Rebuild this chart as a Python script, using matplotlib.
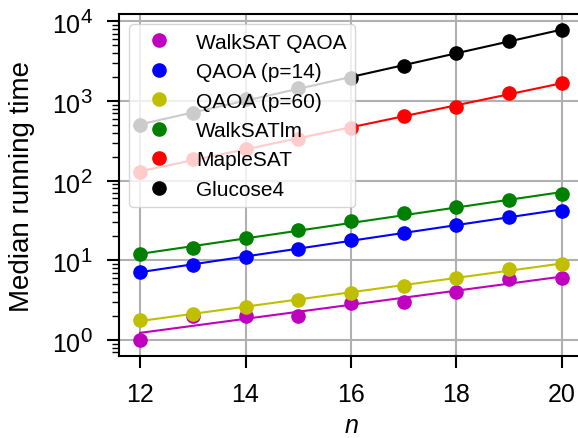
import numpy as np
import matplotlib
matplotlib.use('Agg')
import matplotlib.pyplot as plt
import matplotlib._mathtext as mt

plt.rcParams['font.family'] = ['Liberation Sans', 'DejaVu Sans']
plt.rcParams['mathtext.fontset'] = 'custom'
plt.rcParams['mathtext.rm'] = 'Liberation Sans'
plt.rcParams['mathtext.it'] = 'Liberation Sans:italic'
# exponents on the y ticks are a bit larger than the default mathtext ones
mt.SHRINK_FACTOR = 0.82

# problem sizes
n = [12, 13, 14, 15, 16, 17, 18, 19, 20]

# median running times
walksat_qaoa = [1.0, 2.0, 2.0, 2.0, 2.9, 3.0, 4.0, 5.9, 6.0]
qaoa_p14 = [7.1, 8.8, 11.2, 14.1, 17.8, 22.4, 28.2, 35.6, 42.0]
qaoa_p60 = [1.8, 2.1, 2.6, 3.2, 3.9, 4.8, 6.1, 7.9, 8.9]
walksatlm = [12.0, 14.3, 18.9, 24.0, 31.0, 38.9, 46.7, 57.6, 68.0]
maplesat = [130, 187, 250, 333, 465, 650, 853, 1280, 1670]
glucose4 = [500, 707, 1060, 1480, 1940, 2800, 3990, 5760, 7770]

series = [
    ('WalkSAT QAOA', walksat_qaoa, 'm'),
    ('QAOA (p=14)', qaoa_p14, 'b'),
    ('QAOA (p=60)', qaoa_p60, 'y'),
    ('WalkSATlm', walksatlm, 'g'),
    ('MapleSAT', maplesat, 'r'),
    ('Glucose4', glucose4, 'k'),
]

fig = plt.figure(figsize=(5.78, 4.39), dpi=100)
ax = fig.add_axes([119 / 578, 82 / 439, 464 / 578, 342 / 439])

x = np.array(n)
for label, vals, c in series:
    # exponential fit (straight line on log axis)
    k, b = np.polyfit(x, np.log10(vals), 1)
    ax.plot(x, 10 ** (k * x + b), '-', color=c, lw=1.5, zorder=2)
    ax.plot(x, vals, 'o', color=c, ms=9.5, label=label, zorder=3)

ax.set_yscale('log')
ax.set_xlim(11.6, 20.4)
ax.set_ylim(10 ** -0.2, 10 ** 4.094)
ax.set_xticks([12, 14, 16, 18, 20])
ax.grid(True, which='major', color='#b0b0b0', lw=1.5)
ax.set_axisbelow(True)

for s in ['left', 'bottom', 'top', 'right']:
    ax.spines[s].set_linewidth(1.5)
ax.tick_params(axis='both', which='major', labelsize=18, length=8.5, width=1.5, pad=10.5)
ax.tick_params(axis='y', which='minor', length=5, width=1)

ax.set_xlabel('$n$', fontsize=18, labelpad=5)
ax.set_ylabel('Median running time', fontsize=20, labelpad=12)
ax.legend(loc='upper left', fontsize=15)

fig.savefig('out.png', dpi=100)
